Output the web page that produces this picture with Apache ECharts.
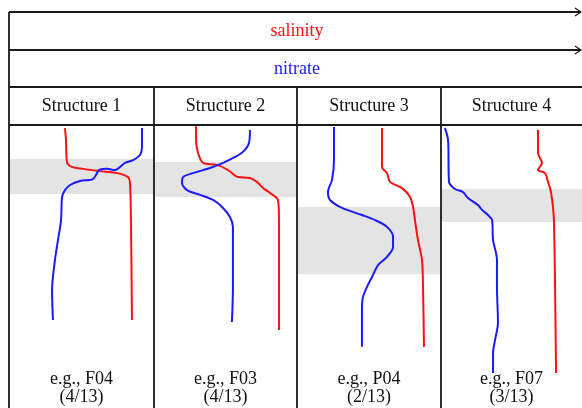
<!DOCTYPE html>
<html>
<head>
<meta charset="utf-8">
<script src="https://cdn.jsdelivr.net/npm/echarts@6/dist/echarts.min.js"></script>
<style>
  html, body { margin: 0; padding: 0; background: #fff; }
  #chart { width: 582px; height: 408px; }
</style>
</head>
<body>
<div id="chart"></div>
<script>
// Profile structures: x = relative concentration (0-100 across panel), y = relative depth (0-100, downward)
const structures = ['Structure 1', 'Structure 2', 'Structure 3', 'Structure 4'];
const examples = ['e.g., F04', 'e.g., F03', 'e.g., P04', 'e.g., F07'];
const counts = ['(4/13)', '(4/13)', '(2/13)', '(3/13)'];

const salinity1 = [[38.6,1.1],[39.3,5.3],[40.0,13.1],[43.4,14.8],[51.0,15.5],[62.8,16.3],[74.5,17.0],[82.1,18.4],[83.4,20.1],[84.1,33.6],[84.8,68.9]];
const nitrate1 = [[91.7,1.1],[91.7,7.8],[90.3,10.6],[85.5,12.4],[80.0,13.4],[73.1,15.9],[67.6,15.5],[62.1,15.9],[60.7,17.0],[57.9,19.1],[49.0,19.8],[42.1,21.2],[38.6,23.0],[36.6,25.4],[35.9,33.6],[33.8,40.6],[31.7,47.7],[29.7,58.3],[30.3,68.9]];

const salinity2 = [[29.4,0.4],[29.4,5.3],[30.8,9.9],[34.3,13.4],[44.1,14.1],[51.7,15.9],[58.7,18.4],[67.1,18.7],[72.0,20.1],[76.2,22.3],[81.1,24.0],[86.7,26.5],[87.4,33.6],[87.4,72.4]];
const nitrate2 = [[67.1,1.8],[66.4,6.4],[62.2,9.5],[56.6,11.3],[48.3,13.4],[39.2,15.2],[27.3,17.0],[20.3,18.4],[19.6,20.5],[23.1,23.0],[32.2,24.7],[41.3,26.5],[47.6,29.0],[53.1,32.5],[55.2,36.0],[55.2,45.2],[55.2,57.2],[54.5,69.6]];

const salinity3 = [[59.0,1.1],[59.0,14.8],[62.5,17.0],[64.6,20.1],[72.9,22.3],[78.5,25.4],[80.6,29.0],[81.9,33.6],[84.0,40.6],[86.8,47.7],[87.5,57.2],[88.2,78.4]];
const nitrate3 = [[25.7,0.7],[25.7,12.4],[24.3,19.4],[21.5,23.7],[22.9,26.5],[31.3,29.3],[45.1,31.8],[54.2,33.6],[62.5,36.0],[66.7,39.6],[66.7,43.1],[62.5,46.6],[56.3,49.5],[52.1,53.7],[48.6,57.2],[45.8,60.8],[45.1,65.4],[45.1,78.4]];

const salinity4 = [[68.8,1.8],[68.8,9.9],[71.6,13.4],[68.8,15.9],[73.8,17.0],[75.9,20.1],[78.0,23.7],[79.4,29.0],[80.1,33.6],[80.9,57.2],[81.6,87.6]];
const nitrate4 = [[2.8,1.1],[5.0,5.3],[5.7,20.1],[9.9,22.6],[15.6,23.7],[19.1,25.8],[26.2,28.3],[29.1,30.0],[33.3,31.8],[36.2,33.6],[36.9,40.6],[39.7,47.7],[39.7,57.2],[40.4,70.0],[38.3,76.0],[36.9,80.6],[36.9,87.6]];

// Depth range of the transition layer in each structure
const bandTop = [12.0, 13.1, 29.0, 22.6];
const bandBottom = [24.4, 25.4, 52.7, 34.3];

const salinityData = [salinity1, salinity2, salinity3, salinity4];
const nitrateData = [nitrate1, nitrate2, nitrate3, nitrate4];

// Column layout
const colLeft = [9, 154, 297, 441];
const colWidth = [145, 143, 144, 141];
const plotTop = 125, plotHeight = 283;

const SERIF = '"Liberation Serif", "DejaVu Serif", serif';
const RED = '#ff1010';
const BLUE = '#1a1aff';
const FRAME = '#1a1a1a';

const grids = [], xAxes = [], yAxes = [], series = [];
for (let i = 0; i < 4; i++) {
  grids.push({ left: colLeft[i], top: plotTop, width: colWidth[i], height: plotHeight });
  xAxes.push({ gridIndex: i, type: 'value', min: 0, max: 100, show: false });
  yAxes.push({ gridIndex: i, type: 'value', min: 0, max: 100, inverse: true, show: false });
  series.push({
    type: 'line', xAxisIndex: i, yAxisIndex: i, data: [], z: 1, silent: true,
    markArea: {
      silent: true,
      itemStyle: { color: '#e4e4e4' },
      data: [[{ yAxis: bandTop[i] }, { yAxis: bandBottom[i] }]]
    }
  });
  series.push({
    name: 'salinity', type: 'line', xAxisIndex: i, yAxisIndex: i,
    data: salinityData[i], showSymbol: false, smooth: 0.3, z: 3,
    lineStyle: { color: RED, width: 2 }
  });
  series.push({
    name: 'nitrate', type: 'line', xAxisIndex: i, yAxisIndex: i,
    data: nitrateData[i], showSymbol: false, smooth: 0.3, z: 3,
    lineStyle: { color: BLUE, width: 2 }
  });
}

// Table frame, header texts and axis arrows
const graphics = [];
function hLine(y, x1, x2) {
  graphics.push({ type: 'line', z: 10, shape: { x1: x1, y1: y, x2: x2, y2: y }, style: { stroke: FRAME, lineWidth: 1.8 } });
}
function vLine(x, y1, y2) {
  graphics.push({ type: 'line', z: 10, shape: { x1: x, y1: y1, x2: x, y2: y2 }, style: { stroke: FRAME, lineWidth: 1.8 } });
}
function arrowHead(y) {
  graphics.push({ type: 'polyline', z: 10, shape: { points: [[575, y - 4], [581, y], [575, y + 4]] }, style: { stroke: FRAME, lineWidth: 1.3, fill: null } });
}
function text(str, x, y, color, size) {
  graphics.push({ type: 'text', z: 11, x: x, y: y, style: { text: str, fill: color, font: size + 'px ' + SERIF, align: 'center', verticalAlign: 'middle' } });
}

hLine(12, 9, 581); arrowHead(12);
hLine(50, 9, 581); arrowHead(50);
hLine(87, 9, 582);
hLine(125, 9, 582);
vLine(9, 12, 408);
for (let i = 1; i < 4; i++) vLine(colLeft[i], 87, 408);

text('salinity', 297, 31, RED, 18);
text('nitrate', 297, 69, BLUE, 18);
for (let i = 0; i < 4; i++) {
  const cx = colLeft[i] + colWidth[i] / 2;
  text(structures[i], cx, 106, '#111', 18);
  text(examples[i], cx, 379, '#111', 18);
  text(counts[i], cx, 397, '#111', 18);
}

const chart = echarts.init(document.getElementById('chart'), null, { renderer: 'canvas' });
chart.setOption({
  animation: false,
  backgroundColor: '#fff',
  grid: grids,
  xAxis: xAxes,
  yAxis: yAxes,
  series: series,
  graphic: graphics
});
</script>
</body>
</html>
